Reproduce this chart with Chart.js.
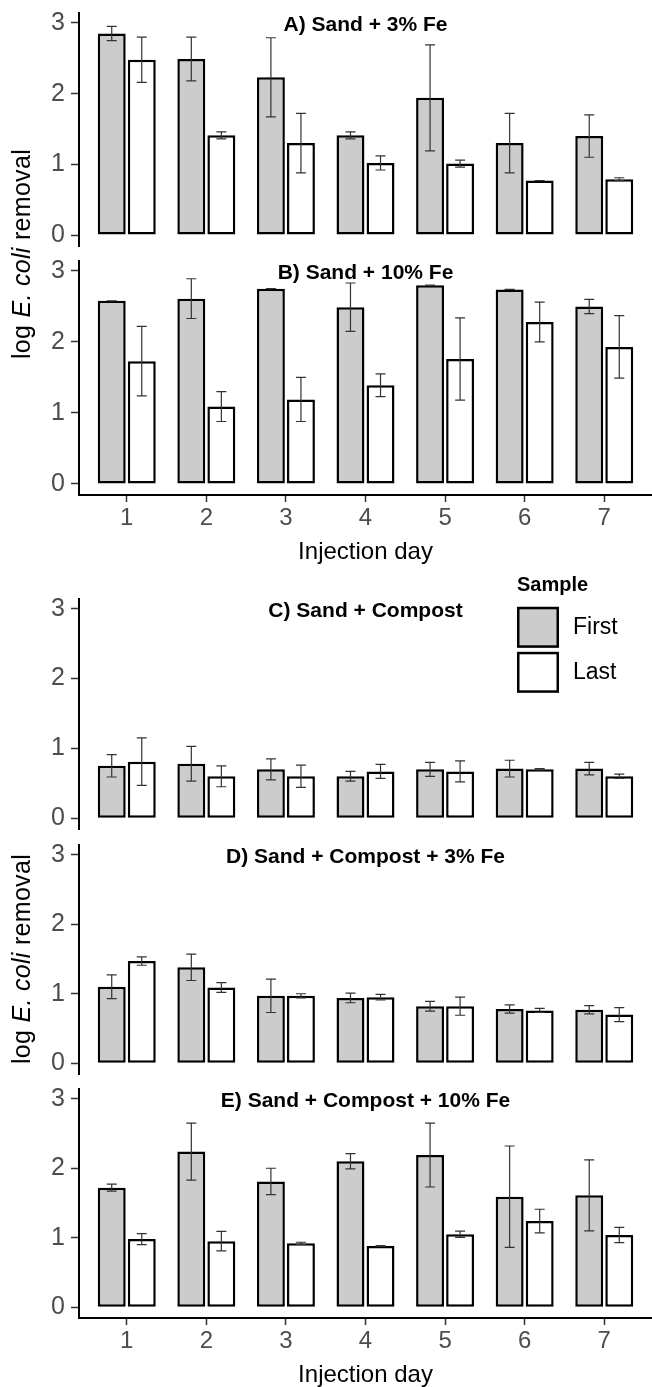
<!DOCTYPE html>
<html>
<head>
<meta charset="utf-8">
<script src="https://cdn.jsdelivr.net/npm/chart.js@4"></script>
<style>
  body { margin: 0; background: #fff; width: 652px; height: 1387px; position: relative; overflow: hidden;
         font-family: "Liberation Sans", Arial, sans-serif; }
  canvas { position: absolute; left: 0; }
  .ytitle { position: absolute; width: 320px; height: 30px; line-height: 30px; text-align: center;
            font-size: 25px; color: #000; transform: rotate(-90deg); white-space: nowrap; letter-spacing: 0.3px; }
</style>
</head>
<body>
<script>
// injection days and y ticks
const days = [1, 2, 3, 4, 5, 6, 7];
const yTicks = [0, 1, 2, 3];
const sampleLabels = ['First', 'Last'];
const panelTitles = ['A) Sand + 3% Fe', 'B) Sand + 10% Fe', 'C) Sand + Compost',
  'D) Sand + Compost + 3% Fe', 'E) Sand + Compost + 10% Fe'];

// log E. coli removal, mean and sd per day
const aFirst = [2.85, 2.49, 2.23, 1.41, 1.94, 1.30, 1.40];
const aFirstSd = [0.10, 0.31, 0.56, 0.05, 0.75, 0.42, 0.30];
const aLast = [2.48, 1.41, 1.30, 1.02, 1.01, 0.77, 0.79];
const aLastSd = [0.32, 0.05, 0.42, 0.10, 0.05, 0, 0.02];

const bFirst = [2.58, 2.61, 2.75, 2.49, 2.80, 2.74, 2.50];
const bFirstSd = [0, 0.28, 0, 0.34, 0, 0, 0.10];
const bLast = [1.73, 1.09, 1.19, 1.39, 1.76, 2.28, 1.93];
const bLastSd = [0.49, 0.21, 0.31, 0.16, 0.58, 0.28, 0.44];

const cFirst = [0.75, 0.78, 0.70, 0.60, 0.70, 0.71, 0.71];
const cFirstSd = [0.16, 0.25, 0.15, 0.07, 0.10, 0.12, 0.09];
const cLast = [0.81, 0.60, 0.60, 0.67, 0.67, 0.70, 0.60];
const cLastSd = [0.34, 0.15, 0.16, 0.10, 0.15, 0.01, 0.03];

const dFirst = [1.10, 1.38, 0.97, 0.94, 0.82, 0.78, 0.77];
const dFirstSd = [0.17, 0.19, 0.24, 0.07, 0.07, 0.06, 0.06];
const dLast = [1.47, 1.09, 0.97, 0.95, 0.82, 0.76, 0.70];
const dLastSd = [0.06, 0.07, 0.03, 0.04, 0.13, 0.03, 0.10];

const eFirst = [1.72, 2.24, 1.81, 2.10, 2.19, 1.59, 1.61];
const eFirstSd = [0.05, 0.41, 0.19, 0.11, 0.46, 0.73, 0.51];
const eLast = [0.98, 0.95, 0.92, 0.88, 1.05, 1.24, 1.04];
const eLastSd = [0.08, 0.14, 0.015, 0.005, 0.045, 0.17, 0.11];

const FONT = '"Liberation Sans", Arial, sans-serif';
Chart.defaults.font.family = FONT;

// where each panel's plot area sits on the page
const panels = [
  { title: panelTitles[0], first: aFirst, firstSd: aFirstSd, last: aLast, lastSd: aLastSd, top: 12.1, bottom: 247, xAxis: false },
  { title: panelTitles[1], first: bFirst, firstSd: bFirstSd, last: bLast, lastSd: bLastSd, top: 260.4, bottom: 495, xAxis: true },
  { title: panelTitles[2], first: cFirst, firstSd: cFirstSd, last: cLast, lastSd: cLastSd, top: 599.2, bottom: 829.9, xAxis: false, legend: true },
  { title: panelTitles[3], first: dFirst, firstSd: dFirstSd, last: dLast, lastSd: dLastSd, top: 843.5, bottom: 1074, xAxis: false },
  { title: panelTitles[4], first: eFirst, firstSd: eFirstSd, last: eLast, lastSd: eLastSd, top: 1088.4, bottom: 1318, xAxis: true }
];

const errorBars = {
  id: 'errorBars',
  afterDatasetsDraw(chart) {
    const ctx = chart.ctx;
    const y = chart.scales.y;
    chart.data.datasets.forEach((ds, di) => {
      chart.getDatasetMeta(di).data.forEach((bar, j) => {
        const v = ds.data[j].y, sd = ds.sd[j];
        const hi = y.getPixelForValue(v + sd), lo = y.getPixelForValue(v - sd);
        ctx.save();
        ctx.strokeStyle = '#333';
        ctx.lineWidth = 1.2;
        ctx.beginPath();
        ctx.moveTo(bar.x, hi); ctx.lineTo(bar.x, lo);
        ctx.moveTo(bar.x - 5, hi); ctx.lineTo(bar.x + 5, hi);
        ctx.moveTo(bar.x - 5, lo); ctx.lineTo(bar.x + 5, lo);
        ctx.stroke();
        ctx.restore();
      });
    });
  }
};

const panelTitle = {
  id: 'panelTitle',
  afterDraw(chart, args, opts) {
    const ctx = chart.ctx;
    const a = chart.chartArea;
    ctx.save();
    ctx.font = 'bold 21px ' + FONT;
    ctx.fillStyle = '#000';
    ctx.textAlign = 'center';
    ctx.textBaseline = 'middle';
    ctx.fillText(opts.text, (a.left + a.right) / 2, chart.scales.y.getPixelForValue(3) + 2);
    ctx.restore();
  }
};

const sampleLegend = {
  id: 'sampleLegend',
  afterDraw(chart, args, opts) {
    if (!opts.show) return;
    const ctx = chart.ctx;
    const dy = opts.offset;
    ctx.save();
    ctx.fillStyle = '#000';
    ctx.textBaseline = 'middle';
    ctx.textAlign = 'left';
    ctx.font = 'bold 20px ' + FONT;
    ctx.fillText('Sample', 517, 586 - dy);
    chart.data.datasets.forEach((ds, i) => {
      const top = 607 + i * 45 - dy;
      ctx.fillStyle = ds.backgroundColor;
      ctx.fillRect(517, top, 42, 41);
      ctx.strokeStyle = '#000';
      ctx.lineWidth = 2.5;
      ctx.strokeRect(518.25, top + 1.25, 39.5, 38.5);
      ctx.fillStyle = '#000';
      ctx.font = '23px ' + FONT;
      ctx.fillText(ds.label, 573, top + 21);
    });
    ctx.restore();
  }
};

function makePanel(p) {
  const padTop = p.legend ? 60 : 20;
  const xH = p.xAxis ? 80 : 0;
  const padBottom = p.xAxis ? 0 : 20;
  const h = Math.round(padTop + (p.bottom - p.top) + xH + padBottom);
  const canvasTop = p.top - padTop;
  const canvas = document.createElement('canvas');
  canvas.width = 652;
  canvas.height = h;
  canvas.style.width = '652px';
  canvas.style.height = h + 'px';
  canvas.style.top = canvasTop + 'px';
  document.body.appendChild(canvas);

  const series = (vals, sd, label, color) => ({
    label: label,
    data: days.map((d, j) => ({ x: d, y: vals[j] })),
    sd: sd,
    backgroundColor: color,
    borderColor: '#000',
    borderWidth: 2.5,
    borderSkipped: false,
    categoryPercentage: 0.755,
    barPercentage: 0.93
  });

  new Chart(canvas, {
    type: 'bar',
    data: {
      datasets: [
        series(p.first, p.firstSd, sampleLabels[0], '#cccccc'),
        series(p.last, p.lastSd, sampleLabels[1], '#ffffff')
      ]
    },
    options: {
      responsive: false,
      animation: false,
      devicePixelRatio: 1,
      layout: { padding: { top: padTop, bottom: padBottom, left: 0, right: 0 } },
      plugins: {
        legend: { display: false },
        tooltip: { enabled: false },
        panelTitle: { text: p.title },
        sampleLegend: { show: !!p.legend, offset: canvasTop }
      },
      scales: {
        x: {
          type: 'linear',
          min: 0.4,
          max: 7.6,
          offset: false,
          display: p.xAxis,
          afterBuildTicks: s => { s.ticks = days.map(v => ({ value: v })); },
          afterFit: s => { s.height = xH; },
          grid: { offset: false, drawOnChartArea: false, tickLength: 7, tickColor: '#333', tickWidth: 1.5 },
          border: { color: '#000', width: 2 },
          ticks: { color: '#4d4d4d', font: { size: 24 }, padding: 2, maxRotation: 0, autoSkip: false },
          title: { display: true, text: 'Injection day', color: '#000', font: { size: 24 }, padding: { top: 0, bottom: 8 } }
        },
        y: {
          min: -0.155,
          max: 3.14,
          afterBuildTicks: s => { s.ticks = yTicks.map(v => ({ value: v })); },
          afterFit: s => { s.width = 79; },
          grid: { drawOnChartArea: false, tickLength: 8, tickColor: '#333', tickWidth: 1.5 },
          border: { color: '#000', width: 2 },
          ticks: { color: '#4d4d4d', font: { size: 25 }, padding: 6 }
        }
      }
    },
    plugins: [errorBars, panelTitle, sampleLegend]
  });
}

panels.forEach(makePanel);

// shared y axis titles, one per group of panels
function yTitle(cy) {
  const d = document.createElement('div');
  d.className = 'ytitle';
  d.innerHTML = 'log <i>E. coli</i> removal';
  d.style.left = (21 - 160) + 'px';
  d.style.top = (cy - 15) + 'px';
  document.body.appendChild(d);
}
yTitle((panels[0].top + panels[1].bottom) / 2);
yTitle((panels[2].top + panels[4].bottom) / 2);
</script>
</body>
</html>
